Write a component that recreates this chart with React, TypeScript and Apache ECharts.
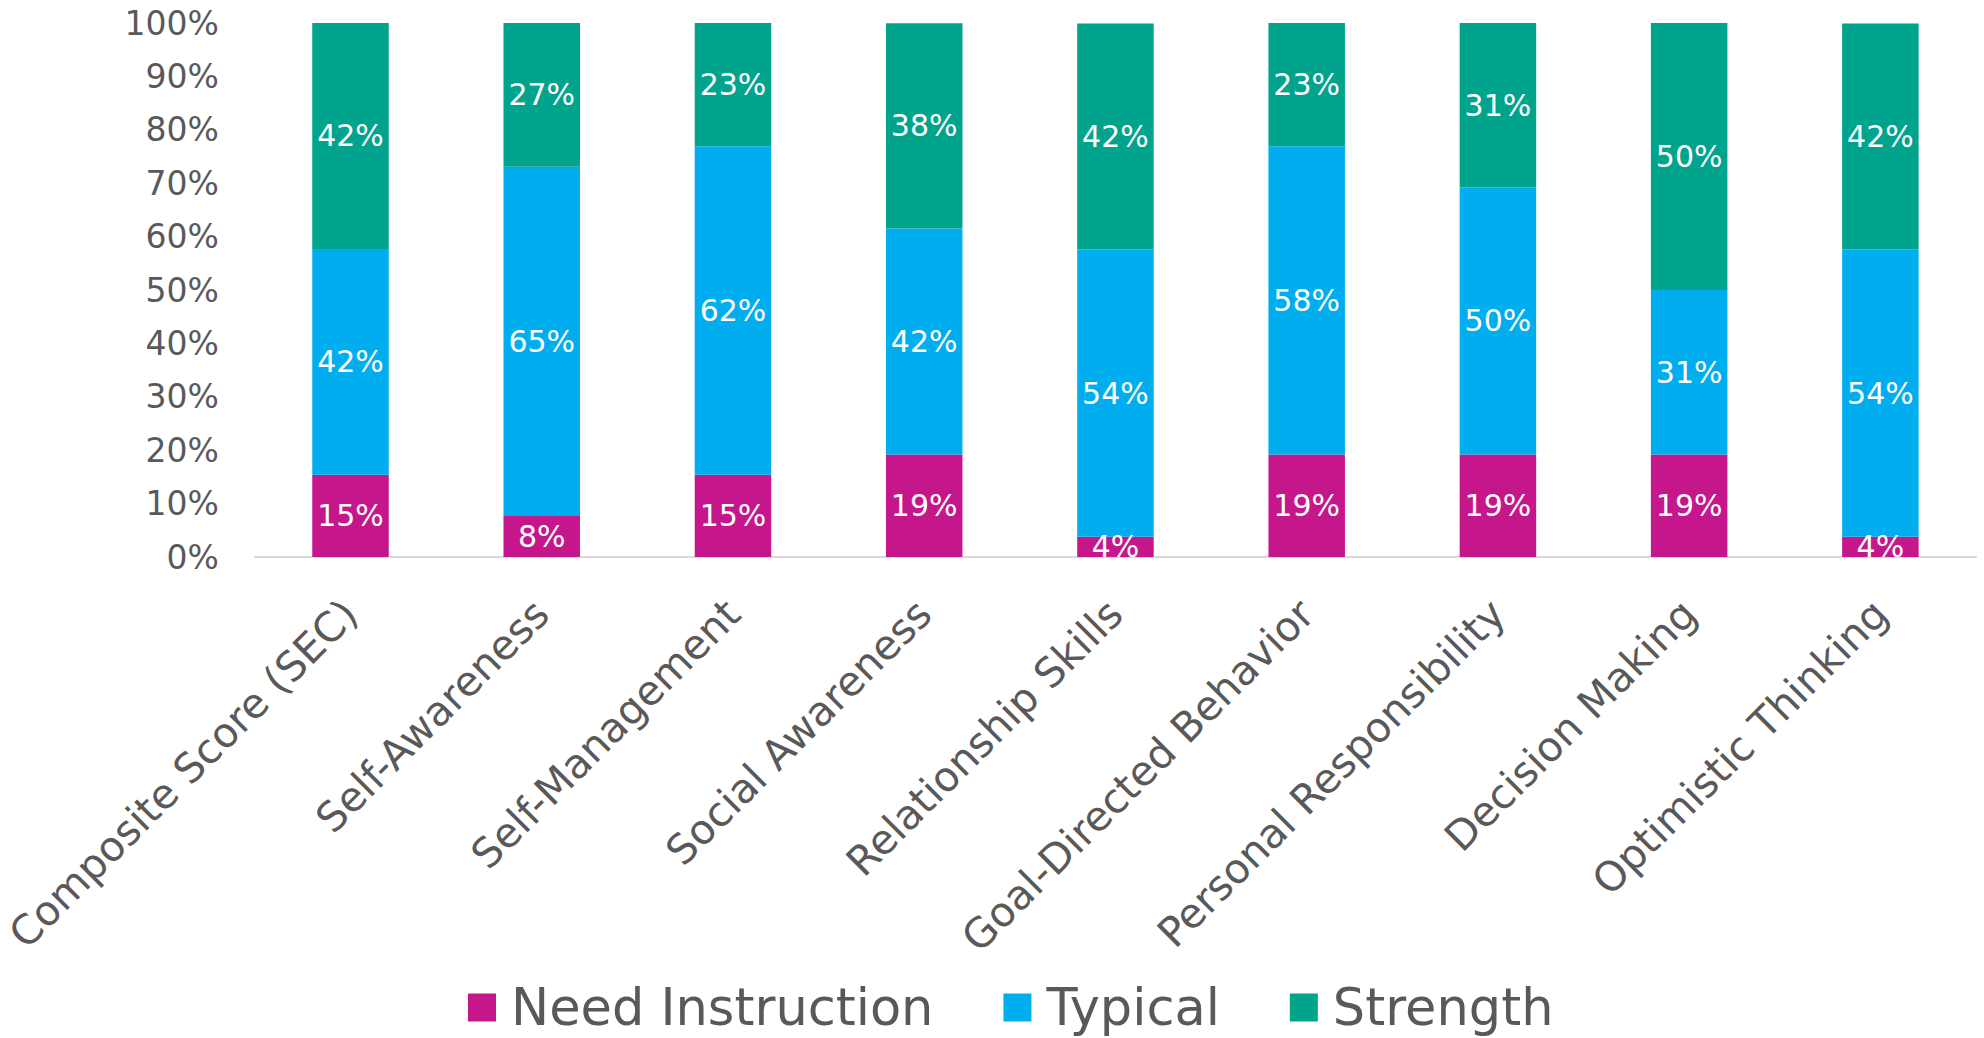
import React, { useEffect, useRef } from "react";
import * as echarts from "echarts";

const categories = [
  "Composite Score (SEC)",
  "Self-Awareness",
  "Self-Management",
  "Social Awareness",
  "Relationship Skills",
  "Goal-Directed Behavior",
  "Personal Responsibility",
  "Decision Making",
  "Optimistic Thinking",
];
const needInstruction = [15.4, 7.7, 15.4, 19.2, 3.8, 19.2, 19.2, 19.2, 3.8];
const typical = [42.3, 65.4, 61.5, 42.3, 53.8, 57.7, 50.0, 30.8, 53.8];
const strength = [42.3, 26.9, 23.1, 38.46, 42.3, 23.1, 30.8, 50.0, 42.3];
const seriesNames = ["Need Instruction", "Typical", "Strength"];
const seriesColors = ["#C5168C", "#00AEEF", "#00A38C"];

const FONT = "Verdana, 'DejaVu Sans', sans-serif";

export default function App() {
  const ref = useRef<HTMLDivElement>(null);
  useEffect(() => {
    if (!ref.current) return;
    const chart = echarts.init(ref.current, null, { renderer: "svg" });
    const data = [needInstruction, typical, strength];
    chart.setOption({
      animation: false,
      backgroundColor: "#ffffff",
      textStyle: { fontFamily: FONT },
      grid: { left: 254, right: 8, top: 23, bottom: 481, containLabel: false },
      legend: {
        left: 463,
        top: 977,
        itemWidth: 28,
        itemHeight: 28,
        itemGap: 70,
        icon: "rect",
        data: seriesNames,
        textStyle: {
          fontFamily: FONT,
          fontSize: 51,
          lineHeight: 50,
          color: "#595959",
          padding: [0, 0, 0, 10],
        },
      },
      xAxis: {
        type: "category",
        data: categories,
        axisLine: { show: true, lineStyle: { color: "#d9d9d9", width: 2 } },
        axisTick: { show: false },
        axisLabel: {
          rotate: 45,
          interval: 0,
          margin: 50,
          verticalAlign: "middle",
          lineHeight: 41,
          fontFamily: FONT,
          fontSize: 41,
          color: "#595959",
        },
      },
      yAxis: {
        type: "value",
        min: 0,
        max: 100,
        interval: 10,
        axisLine: { show: false },
        axisTick: { show: false },
        splitLine: { show: false },
        axisLabel: {
          formatter: "{value}%",
          margin: 36,
          fontFamily: FONT,
          fontSize: 33,
          color: "#595959",
        },
      },
      series: seriesNames.map((name, i) => ({
        name,
        type: "bar",
        stack: "total",
        barWidth: "40%",
        data: data[i],
        itemStyle: { color: seriesColors[i] },
        label: {
          show: true,
          position: "inside",
          color: "#ffffff",
          fontFamily: FONT,
          fontSize: 30,
          formatter: (p: any) => Math.round(p.value) + "%",
        },
      })),
      graphic: [
        {
          type: "rect",
          z: 100,
          shape: { x: 254, y: 559, width: 1722, height: 22 },
          style: { fill: "#ffffff" },
        },
      ],
    });
    return () => chart.dispose();
  }, []);
  return (
    <div
      ref={ref}
      style={{ position: "fixed", left: 0, top: 0, width: 1984, height: 1038 }}
    />
  );
}
